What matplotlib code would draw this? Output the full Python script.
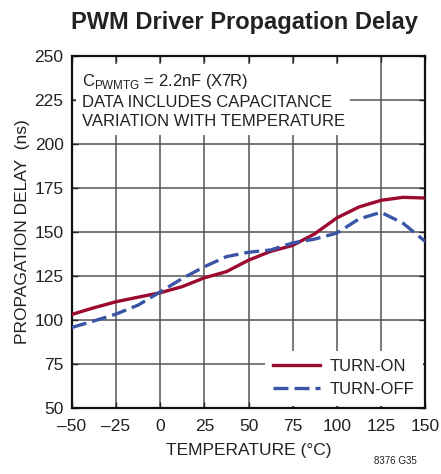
import numpy as np
import matplotlib
matplotlib.use("Agg")
import matplotlib.pyplot as plt
from matplotlib import font_manager

# pick a condensed face if we have one
names = set(f.name for f in font_manager.fontManager.ttflist)
fam = 'Liberation Sans Narrow' if 'Liberation Sans Narrow' in names else 'Liberation Sans'
plt.rcParams['font.family'] = [fam, 'DejaVu Sans']
plt.rcParams['mathtext.fontset'] = 'custom'
plt.rcParams['mathtext.rm'] = fam

temp = [-50, -37.5, -25, -12.5, 0, 12.5, 25, 37.5, 50, 62.5, 75, 87.5, 100, 112.5, 125, 137.5, 150]
turn_on = [103.2, 107, 110.4, 113, 115.5, 119, 124, 127.5, 134, 139, 142.4, 149, 158, 164.2, 168, 169.7, 169.3]
turn_off = [95.8, 99.5, 103.4, 108.5, 116, 123.6, 130.3, 136, 138.5, 139.8, 143.8, 146, 149.4, 157.4, 161.2, 155, 144.7]

xticks = [-50, -25, 0, 25, 50, 75, 100, 125, 150]
xlabels = ['\u201350', '\u201325', '0', '25', '50', '75', '100', '125', '150']
yticks = [50, 75, 100, 125, 150, 175, 200, 225, 250]

red = '#9c0a30'
blue = '#3b55a6'

fig = plt.figure(figsize=(4.41, 4.74), dpi=100)
ax = fig.add_axes([0.163, 0.139, 0.801, 0.743])

ax.plot(temp, turn_on, color=red, lw=2.4, label='TURN-ON', zorder=4)
ax.plot(temp, turn_off, color=blue, lw=2.4, dashes=(4.5, 1.8), label='TURN-OFF', zorder=4)

ax.set_xlim(-50, 150)
ax.set_ylim(50, 250)
ax.set_xticks(xticks)
ax.set_xticklabels(xlabels)
ax.set_yticks(yticks)
ax.grid(True, color='#555555', lw=1.1)
ax.tick_params(direction='in', length=4, width=1, top=True, right=True,
               labelsize=12.5, colors='#222222')
ax.tick_params(axis='x', pad=8)
ax.tick_params(axis='y', pad=6)
for s in ax.spines.values():
    s.set_linewidth(1.6)
    s.set_color('#111111')

ax.set_xlabel('TEMPERATURE (\u00b0C)', fontsize=12.5, color='#222222', labelpad=6)
ax.set_ylabel('PROPAGATION DELAY  (ns)', fontsize=12.5, color='#222222', labelpad=3)
fig.text(0.555, 0.952, 'PWM Driver Propagation Delay', ha='center', va='center',
         fontsize=17, fontweight='bold', color='#222222')

ax.text(0.028, 0.955,
        'C$_{\\mathregular{PWMTG}}$ = 2.2nF (X7R)\nDATA INCLUDES CAPACITANCE\nVARIATION WITH TEMPERATURE',
        transform=ax.transAxes, ha='left', va='top', fontsize=12, color='#222222',
        linespacing=1.35, zorder=5,
        bbox=dict(facecolor='white', edgecolor='none', pad=4))

leg = ax.legend(loc='lower right', fontsize=12, frameon=True, fancybox=False,
                handlelength=2.8, handletextpad=0.6, borderaxespad=0.15,
                labelspacing=0.5, borderpad=0.5)
leg.get_frame().set_edgecolor('none')
leg.get_frame().set_facecolor('white')
leg.get_frame().set_alpha(1)
for t in leg.get_texts():
    t.set_color('#222222')

fig.text(0.945, 0.017, '8376 G35', ha='right', va='bottom', fontsize=7, color='#222222')

fig.savefig('out.png', dpi=100)
